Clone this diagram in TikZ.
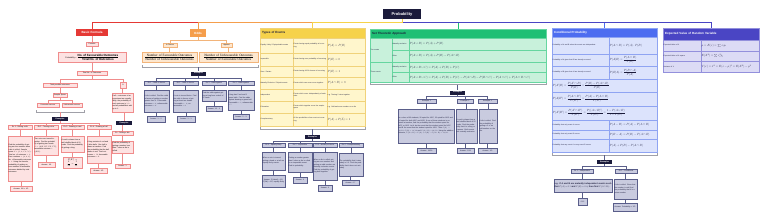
\documentclass[tikz,border=0pt]{standalone}
\usepackage{amsmath}
\usepackage{fontspec}
\setmainfont{Liberation Sans}
\newfontfamily\oddsfont{Liberation Serif}
\definecolor{redC}{HTML}{E53935}
\definecolor{pinkF}{HTML}{FDE2E2}
\definecolor{pinkD}{HTML}{F08C8C}
\definecolor{orangeC}{HTML}{F59E4C}
\definecolor{orangeF}{HTML}{FDE7CF}
\definecolor{orangeD}{HTML}{F2B47A}
\definecolor{yellowC}{HTML}{F6D24A}
\definecolor{yellowF}{HTML}{FFF6CC}
\definecolor{yellowD}{HTML}{F0D27A}
\definecolor{greenC}{HTML}{1FBF74}
\definecolor{greenF}{HTML}{C8F1DB}
\definecolor{greenD}{HTML}{66D6A0}
\definecolor{blueC}{HTML}{4D6DF0}
\definecolor{blueF}{HTML}{DCE3FC}
\definecolor{blueD}{HTML}{8FA4F2}
\definecolor{indigoC}{HTML}{4A45C4}
\definecolor{indigoF}{HTML}{DCDBF5}
\definecolor{indigoD}{HTML}{9390DC}
\definecolor{navy}{HTML}{1B1B3B}
\definecolor{grayF}{HTML}{C9CBDF}
\definecolor{grayD}{HTML}{5A5E8A}
\definecolor{brkC}{HTML}{A0A0A8}
% all coordinates are reference pixels; 1 px = 4pt
\newcommand\mkbox[7]{%
  \pgfmathsetmacro\mkw{4*(#5-#3)}%
  \pgfmathsetmacro\mkh{4*(#6-#4)}%
  \pgfmathsetmacro\mkx{(#3+#5)/2}%
  \pgfmathsetmacro\mky{(#4+#6)/2}%
  \pgfmathsetmacro\mkt{max(4*(#5-#3)-5,4)}%
  \node[#2, minimum width=\mkw pt, minimum height=\mkh pt, text width=\mkt pt] (#1) at (\mkx,\mky) {#7};}
\newcommand\vcon[3]{\draw[#1] (#3 |- #2.south) -- (#3.north);}
\tikzset{
  every node/.style={inner sep=2pt},
  bx/.style={rectangle, align=center, line width=1.4pt, font=\fontsize{7.2}{10}\selectfont},
  pk/.style={bx, draw=pinkD, fill=pinkF, text=black},
  pkl/.style={pk, align=left},
  og/.style={bx, draw=orangeD, fill=orangeF, text=black},
  gy/.style={bx, draw=grayD, fill=grayF, text=navy},
  gyl/.style={gy, align=left},
  nv/.style={bx, fill=navy, text=white, font=\fontsize{7.6}{8.8}\selectfont\bfseries},
  hd/.style={bx, text=white, font=\fontsize{12}{14.4}\selectfont\bfseries},
  th/.style={bx, align=left, font=\fontsize{12}{14.4}\selectfont\bfseries},
  tc/.style={bx, align=left, text=navy, font=\fontsize{6.8}{9}\selectfont},
  yc/.style={tc, draw=yellowD, fill=yellowF},
  ycm/.style={yc, font=\fontsize{12}{14}\selectfont},
  gc/.style={tc, draw=greenD, fill=greenF},
  gcm/.style={gc, font=\fontsize{13}{15}\selectfont},
  bc/.style={tc, draw=blueD, fill=blueF},
  bcm/.style={bc, font=\fontsize{12.5}{15}\selectfont},
  ic/.style={tc, draw=indigoD, fill=indigoF},
  icm/.style={ic, font=\fontsize{12.5}{15}\selectfont},
  bus/.style={line width=4pt},
  cp/.style={draw=pinkD, line width=1.8pt},
  co/.style={draw=orangeD, line width=1.8pt},
  cg/.style={draw=grayD, line width=1.8pt},
  brk/.style={draw=brkC, line width=2.8pt},
}
\begin{document}
\begin{tikzpicture}[x=4pt,y=-4pt]
\fill[white] (0,0) rectangle (768,220);
\useasboundingbox (0,0) rectangle (768,220);

% ---------- root and branch titles ----------
\mkbox{prob}{nv, font=\fontsize{16}{18}\selectfont\bfseries}{383}{9}{421}{19}{Probability}
\mkbox{BF}{hd, fill=redC}{76}{29}{108}{36}{Basic Formula}
\mkbox{OD}{hd, fill=orangeC}{190}{29}{206}{37}{Odds}
\mkbox{TY}{th, fill=yellowC, draw=yellowD, text=navy}{260}{28}{365}{38}{\hspace*{6pt}Types of Events}
\mkbox{ST}{th, fill=greenC, draw=greenD, text=navy}{370}{29}{546}{38}{\hspace*{6pt}Set Theoretic Approach}
\mkbox{CP}{th, fill=blueC, draw=blueD, text=white}{552}{28}{657}{37}{\hspace*{6pt}Conditional Probability}
\mkbox{EV}{th, fill=indigoC, draw=indigoD, text=white}{663}{28}{759}{40}{\hspace*{6pt}Expected Value of Random Variable}

\draw[bus, greenC] (prob.south) -- ++(0,3) -| (ST.north);
\draw[bus, blueC] (prob.south) -- ++(0,3) -| (CP.north);
\draw[bus, indigoC] (prob.south) -- ++(0,3) -| (EV.north);
\draw[bus, redC] (prob.south) -- ++(0,3) -| (BF.north);
\draw[bus, orangeC] (prob.south) -- ++(0,3) -| (OD.north);
\draw[bus, yellowC] (prob.south) -- ++(0,3) -| (TY.north);

% ---------- Basic Formula ----------
\mkbox{bfF}{pk}{86}{42}{98}{46}{Formula}
\mkbox{bfP}{pk, font=\fontsize{8}{9.6}\selectfont}{58}{52}{126}{62}{Probability = {\fontsize{12}{14.4}\selectfont\bfseries$\dfrac{\text{No. of Favourable Outcomes}}{\text{Total No. of Outcomes}}$}}
\mkbox{bfT}{pk}{77}{71}{107}{75}{Total No. of Outcomes}
\mkbox{bfL}{pk}{43}{83}{77}{87}{Total possible outcomes}
\mkbox{bfR}{pk, font=\fontsize{12}{12}\selectfont}{120}{82}{126}{88}{$n$}
\mkbox{bfS}{pk}{53}{93}{67}{97}{Sample Space}
\mkbox{bfFa}{pk, font=\fontsize{6.4}{8}\selectfont}{37}{103}{59}{107}{Favourable outcome}
\mkbox{bfUn}{pk, font=\fontsize{6.4}{8}\selectfont}{62}{103}{82}{107}{Unfavourable outcome}
\mkbox{bfRB}{pkl}{112}{93}{133}{112}{If all $n$ outcomes of an experiment are equally likely, the probability of each outcome is $1/n$ and all probabilities add up to 1.}
\draw[cp] (BF) -- (bfF);
\draw[cp] (bfF) -- (bfP);
\draw[cp] (bfP) -- (bfT);
\draw[cp] (bfT.south) -- ++(0,4) -| (bfL.north);
\draw[cp] (bfT.south) -- ++(0,4) -| (bfR.north);
\draw[cp] (bfL) -- (bfS);
\draw[cp] (bfS.south) -- ++(0,3) -| (bfFa.north);
\draw[cp] (bfS.south) -- ++(0,3) -| (bfUn.north);
\vcon{cp}{bfR}{bfRB}

\draw[brk] (36,110) -- (36,112) -- (84,112) -- (84,110);
\coordinate (bfB) at (60,112);
\mkbox{bfEx}{nv}{52}{117}{68}{121}{Examples}
\draw[cp] (bfB) -- (bfEx);
\mkbox{bh1}{pk}{8}{125}{32}{129}{Ex 1 - Rolling a die}
\mkbox{bh2}{pk}{34}{125}{58}{129}{Ex 2 - Tossing coins}
\mkbox{bh3}{pk}{61}{125}{84}{129}{Ex 3 - Drawing a card}
\mkbox{bh4}{pk}{87}{125}{111}{129}{Ex 4 - Drawing a ball}
\foreach \h in {bh1,bh2,bh3,bh4} \draw[cp] (bfEx.south) -- ++(0,2) -| (\h.north);
\mkbox{bb1}{pkl}{8}{136}{32}{181}{Find the probability of getting an even number when a die is rolled. Sample space $S=\{1,2,3,4,5,6\}$. Total no. of outcomes $=6$. Even numbers $=\{2,4,6\}$. No. of favourable outcomes $=3$. Using the formula, probability of getting an even number is favourable outcomes divided by total outcomes.}
\mkbox{bb2}{pkl}{34}{136}{58}{155}{Two coins are tossed together. Find the probability of getting two heads. $S=\{HH,HT,TH,TT\}$, favourable outcome $=\{HH\}$.}
\mkbox{bb3}{pkl}{61}{136}{84}{152}{A card is drawn from a well shuffled deck of 52 cards. Find the probability of getting a king.}
\mkbox{bb4}{pkl}{87}{136}{111}{163}{A bag contains 4 red and 6 blue balls. One ball is drawn at random. Find the probability that the ball drawn is red. Total outcomes $=10$, favourable outcomes $=4$.}
\mkbox{ba1}{pk}{10}{186}{32}{191}{Answer: 3/6 = 1/2}
\mkbox{ba2}{pk}{38}{162}{55}{167}{Answer: 1/4}
\mkbox{ba3}{pk, font=\fontsize{9.6}{11.2}\selectfont}{63}{157}{82}{168}{$P(K)=\dfrac{4}{52}=\dfrac{1}{13}$}
\mkbox{ba4}{pk}{90}{168}{107}{173}{Answer: 2/5}
\foreach \i in {1,2,3,4} {\vcon{cp}{bh\i}{bb\i} \vcon{cp}{bb\i}{ba\i}}

\mkbox{bfREx}{nv}{116}{121}{132}{125}{Examples}
\mkbox{brh}{pk}{112}{131}{133}{135}{Ex - Rolling a die}
\mkbox{brb}{pkl}{112}{141}{133}{153}{Find the probability of getting a number less than 7 when a die is rolled.}
\mkbox{bra}{pk}{115}{164}{130}{168}{Answer: 1}
\vcon{cp}{bfRB}{bfREx}
\vcon{cp}{bfREx}{brh}
\vcon{cp}{brh}{brb}
\vcon{cp}{brb}{bra}

% ---------- Odds ----------
\mkbox{odF}{og}{163}{43}{177}{47}{In Favour}
\mkbox{odA}{og}{221}{43}{232}{47}{Against}
\mkbox{odFF}{og, font=\oddsfont\fontsize{13.2}{16}\selectfont}{142}{52}{197}{62}{$\dfrac{\text{Number of Favourable Outcomes}}{\text{Number of Unfavourable Outcomes}}$}
\mkbox{odAF}{og, font=\oddsfont\fontsize{13.2}{16}\selectfont}{199}{52}{258}{62}{$\dfrac{\text{Number of Unfavourable Outcomes}}{\text{Number of Favourable Outcomes}}$}
\draw[co] (OD.south) -- ++(0,3) -| (odF.north);
\draw[co] (OD.south) -- ++(0,3) -| (odA.north);
\vcon{co}{odF}{odFF}
\vcon{co}{odA}{odAF}
\draw[brk] (142,65) -- (142,67) -- (258,67) -- (258,65);
\coordinate (odB) at (198.5,67);
\mkbox{odEx}{nv}{191}{71.5}{206}{75.5}{Examples}
\draw[cg] (odB) -- (odEx);
\mkbox{oh1}{gy}{144}{81}{169}{85}{Ex 1 - Odds in favour}
\mkbox{oh2}{gy}{173}{81}{198}{85}{Ex 2 - Odds in favour}
\mkbox{oh3}{gy}{202}{81}{226}{85}{Ex 3 - Odds against}
\mkbox{oh4}{gy}{228}{81}{254}{85}{Ex 4 - Odds against}
\foreach \h in {oh1,oh2,oh3,oh4} \draw[cg] (odEx.south) -- ++(0,2.5) -| (\h.north);
\mkbox{ob1}{gyl}{144}{90}{169}{112}{A die is rolled. Find the odds in favour of getting a number greater than 4. Favourable outcomes $=2$, unfavourable outcomes $=4$.}
\mkbox{ob2}{gyl}{173}{90}{198}{112}{A coin is tossed thrice. Find the odds in favour of getting at least two heads. Favourable $=4$, unfavourable $=4$.}
\mkbox{ob3}{gyl}{202}{90}{226}{101}{Find the odds against getting a king from a deck of 52 cards.}
\mkbox{ob4}{gyl}{228}{90}{254}{110}{A bag has 5 red and 3 green balls. Find the odds against drawing a green ball. Favourable $=3$, unfavourable $=5$.}
\mkbox{oa1}{gy}{147}{116}{165}{122}{Answer: 1 : 2}
\mkbox{oa2}{gy}{177}{116}{195}{122}{Answer: 1 : 1}
\mkbox{oa3}{gy}{206}{106}{222}{111}{Answer: 12 : 1}
\mkbox{oa4}{gy}{233}{114}{249}{119}{Answer: 5 : 3}
\foreach \i in {1,2,3,4} {\vcon{cg}{oh\i}{ob\i} \vcon{cg}{ob\i}{oa\i}}

% ---------- Types of Events ----------
\mkbox{ty11}{yc}{260}{38}{293}{53}{Equally Likely / Equiprobable events}
\mkbox{ty12}{yc}{293}{38}{327}{53}{Events having equal probability of occurring}
\mkbox{ty13}{ycm}{327}{38}{365}{53}{$P(A)=P(B)$}
\mkbox{ty21}{yc}{260}{53}{293}{66}{Impossible}
\mkbox{ty22}{yc}{293}{53}{327}{66}{Events having zero probability of occurring}
\mkbox{ty23}{ycm}{327}{53}{365}{66}{$P(E)=0$}
\mkbox{ty31}{yc}{260}{66}{293}{77}{Sure / Certain}
\mkbox{ty32}{yc}{293}{66}{327}{77}{Events having 100\% chance of occurring}
\mkbox{ty33}{ycm}{327}{66}{365}{77}{$P(E)=1$}
\mkbox{ty41}{yc}{260}{77}{293}{89}{Mutually Exclusive / Disjoint events}
\mkbox{ty42}{yc}{293}{77}{327}{89}{Events which can never occur together}
\mkbox{ty43}{ycm}{327}{77}{365}{89}{$P(A\cap B)=0$}
\mkbox{ty51}{yc}{260}{89}{293}{101}{Independent}
\mkbox{ty52}{yc}{293}{89}{327}{101}{Events which occur independently of each other}
\mkbox{ty53}{yc}{327}{89}{365}{101}{e.g. Tossing 2 coins together}
\mkbox{ty61}{yc}{260}{101}{293}{113}{Exhaustive}
\mkbox{ty62}{yc}{293}{101}{327}{113}{Events which together cover the sample space}
\mkbox{ty63}{yc}{327}{101}{365}{113}{e.g. Odd and even numbers on a die}
\mkbox{ty71}{yc}{260}{113}{293}{126}{Complementary}
\mkbox{ty72}{yc}{293}{113}{327}{126}{All the possibilities of an event not occurring}
\mkbox{ty73}{ycm}{327}{113}{365}{126}{$P(A)+P(\bar{A})=1$}
\draw[brk] (260,127) -- (260,129) -- (365,129) -- (365,127);
\coordinate (tyB) at (312.5,129);
\mkbox{tyEx}{nv}{305}{135}{320}{139}{Examples}
\draw[cg] (tyB) -- (tyEx);
\mkbox{th1}{gy}{262}{143}{285}{147}{Ex 1 - Equally likely}
\mkbox{th2}{gy}{288}{143}{312}{147}{Ex 2 - Impossible}
\mkbox{th3}{gy, font=\fontsize{6.6}{9}\selectfont}{313}{143}{337}{147}{Ex 3 - Mutually exclusive}
\mkbox{th4}{gy}{339}{143}{363}{147}{Ex 4 - Complementary}
\foreach \h in {th1,th2,th3,th4} \draw[cg] (tyEx.south) -- ++(0,2) -| (\h.north);
\mkbox{tb1}{gyl}{262}{152}{285}{170}{When a coin is tossed, getting a head or a tail are equally likely events.}
\mkbox{tb2}{gyl}{288}{152}{312}{172}{Getting a number greater than 6 when a die is rolled is an impossible event. Find its probability.}
\mkbox{tb3}{gyl}{313}{152}{337}{180}{When a die is rolled, getting an even number and getting an odd number are mutually exclusive events. Find the probability of getting both together.}
\mkbox{tb4}{gyl}{339}{153}{363}{176}{The probability that it rains today is 0.3. Find the probability that it does not rain today.}
\mkbox{ta1}{gy}{262}{175}{285}{187}{Answer: P(Head) = 1/2, P(Tail) = 1/2, equally likely}
\mkbox{ta2}{gy}{293}{177}{307}{183}{Answer: 0}
\mkbox{ta3}{gy}{318}{185}{332}{191}{Answer: 0}
\mkbox{ta4}{gy}{342}{180}{359}{185}{Answer: 0.7}
\foreach \i in {1,2,3,4} {\vcon{cg}{th\i}{tb\i} \vcon{cg}{tb\i}{ta\i}}

% ---------- Set Theoretic Approach ----------
\mkbox{st1}{gc}{370}{38}{392}{62}{Two events}
\mkbox{st2}{gc}{370}{62}{392}{82}{Three events}
\mkbox{st11}{gc}{392}{38}{409}{50}{Mutually exclusive}
\mkbox{st12}{gc}{392}{50}{409}{62}{Other}
\mkbox{st21}{gc}{392}{62}{409}{72.5}{Mutually exclusive}
\mkbox{st22}{gc}{392}{72.5}{409}{82}{Other}
\mkbox{sf11}{gcm}{409}{38}{546}{50}{$P(A\cup B)=P(A)+P(B)$}
\mkbox{sf12}{gcm}{409}{50}{546}{62}{$P(A\cup B)=P(A)+P(B)-P(A\cap B)$}
\mkbox{sf21}{gcm}{409}{62}{546}{72.5}{$P(A\cup B\cup C)=P(A)+P(B)+P(C)$}
\mkbox{sf22}{gcm}{409}{72.5}{546}{82}{$P(A\cup B\cup C)=P(A)+P(B)+P(C)-P(A\cap B)-P(B\cap C)-P(A\cap C)+P(A\cap B\cap C)$}
\draw[brk] (370,82.5) -- (370,84.5) -- (546,84.5) -- (546,82.5);
\coordinate (stB) at (457.5,84.5);
\mkbox{stEx}{nv}{450}{90.5}{465}{94.5}{Examples}
\draw[cg] (stB) -- (stEx);
\mkbox{sh1}{gy}{417}{99}{436}{103}{Example 1}
\mkbox{sh2}{gy}{457}{99}{473}{103}{Example 2}
\mkbox{sh3}{gy}{478}{99}{497}{103}{Example 3}
\foreach \h in {sh1,sh2,sh3} \draw[cg] (stEx.south) -- ++(0,2) -| (\h.north);
\mkbox{sb1}{gyl}{398}{109}{454}{143}{In a class of 60 students, 30 opted for NCC, 32 opted for NSS and 24 opted for both NCC and NSS. If one of these students is selected at random, find the probability that the student opted for NCC or NSS. Let A be the event that the student opted for NCC and B the event that the student opted for NSS. Then $P(A)=30/60$, $P(B)=32/60$ and $P(A\cap B)=24/60$. Using the addition theorem, $P(A\cup B)=P(A)+P(B)-P(A\cap B)=38/60$.}
\mkbox{sb2}{gyl}{456}{109}{477}{143}{A card is drawn from a well shuffled deck of 52 cards. Find the probability that it is a king or a queen. Both events are mutually exclusive.}
\mkbox{sb3}{gyl}{479}{109}{497}{143}{A die is rolled. Find the probability of getting a 2 or an odd number on the die.}
\mkbox{sa1}{gy}{417}{148}{436}{153}{Answer: 19/30}
\mkbox{sa2}{gy}{457}{148}{474}{153}{Answer: 2/13}
\mkbox{sa3}{gy}{478}{148}{497}{153}{Answer: 2/3}
\draw[cg] (sh1) -- (sh1 |- sb1.north);
\vcon{cg}{sh2}{sb2}
\vcon{cg}{sh3}{sb3}
\draw[cg] (sa1 |- sb1.south) -- (sa1.north);
\vcon{cg}{sb2}{sa2}
\vcon{cg}{sb3}{sa3}

% ---------- Conditional Probability ----------
\mkbox{cl1}{bc}{552}{37}{609}{54}{Probability of A and B when the events are independent}
\mkbox{cr1}{bcm}{609}{37}{657}{54}{$P(A\cap B)=P(A)\cdot P(B)$}
\mkbox{cl2}{bc}{552}{54}{609}{66}{Probability of A given that B has already occurred}
\mkbox{cr2}{bcm}{609}{54}{657}{66}{$P(A|B)=\dfrac{P(A\cap B)}{P(B)}$}
\mkbox{cl3}{bc}{552}{66}{609}{79}{Probability of B given that A has already occurred}
\mkbox{cr3}{bcm}{609}{66}{657}{79}{$P(B|A)=\dfrac{P(B\cap A)}{P(A)}$}
\mkbox{cf4}{bcm}{552}{79}{657}{92}{$P(A'|B)=\dfrac{P(A'\cap B)}{P(B)}=\dfrac{P(B)-P(A\cap B)}{P(B)}$}
\mkbox{cf5}{bcm}{552}{92}{657}{106}{$P(A|B')=\dfrac{P(A\cap B')}{P(B')}=\dfrac{P(A)-P(A\cap B)}{P(B')}$}
\mkbox{cf6}{bcm}{552}{106}{657}{120}{$P(A'|B')=\dfrac{P(A'\cap B')}{P(B')}=\dfrac{P((A\cup B)')}{P(B')}=\dfrac{1-P(A\cup B)}{1-P(B)}$}
\mkbox{cl7}{bc}{552}{120}{609}{130}{Probability that only event A occurs}
\mkbox{cr7}{bcm}{609}{120}{657}{130}{$P(A-B)=P(A)-P(A\cap B)$}
\mkbox{cl8}{bc}{552}{130}{609}{139}{Probability that only event B occurs}
\mkbox{cr8}{bcm}{609}{130}{657}{139}{$P(B-A)=P(B)-P(A\cap B)$}
\mkbox{cl9}{bc}{552}{139}{609}{152}{Probability that any event A or any event B occurs}
\mkbox{cr9}{bcm}{609}{139}{657}{152}{$P(A)+P(B)-P(A\cap B)$}
\draw[brk] (552,153) -- (552,155) -- (657,155) -- (657,153);
\coordinate (cpB) at (604.5,155);
\mkbox{cpEx}{nv}{597}{160}{612}{164}{Examples}
\draw[cg] (cpB) -- (cpEx);
\mkbox{ch1}{gy}{571}{169}{593}{173}{Ex 1 - Independent}
\mkbox{ch2}{gy}{615}{169}{637}{173}{Ex 2 - Conditional}
\foreach \h in {ch1,ch2} \draw[cg] (cpEx.south) -- ++(0,2) -| (\h.north);
\mkbox{cb1}{gyl, font=\fontsize{8.8}{11.4}\selectfont\bfseries}{554}{179}{612}{192}{e.g. If A and B are mutually independent events such that $P(A)=0.3$ and $P(B)=0.4$, then find $P(A\cap B)$.}
\mkbox{cb2}{gyl}{614}{179}{637}{199}{A die is rolled. Given that the number is odd, find the probability that it is a prime number.}
\mkbox{ca1}{gy}{578}{198}{587}{205}{0.12}
\mkbox{ca2}{gy}{613}{203}{637}{211}{Answer: Probability = 2/3}
\draw[cg] (ch1) -- (ch1 |- cb1.north);
\vcon{cg}{ch2}{cb2}
\draw[cg] (ca1 |- cb1.south) -- (ca1.north);
\vcon{cg}{cb2}{ca2}

% ---------- Expected Value ----------
\mkbox{el1}{ic}{663}{40}{701}{51}{Expected Value of X}
\mkbox{er1}{icm}{701}{40}{759}{51}{$\mu=E(x)=\sum x_i p_i$}
\mkbox{el2}{ic}{663}{51}{701}{61}{Expected Value of X square}
\mkbox{er2}{icm}{701}{51}{759}{61}{$E(X^2)=\sum x_i^2 p_i$}
\mkbox{el3}{ic}{663}{61}{701}{72}{Variance of X}
\mkbox{er3}{icm}{701}{61}{759}{72}{$V(x)=\sigma^2=E(x-\mu)^2=E(X^2)-\mu^2$}
\end{tikzpicture}
\end{document}
